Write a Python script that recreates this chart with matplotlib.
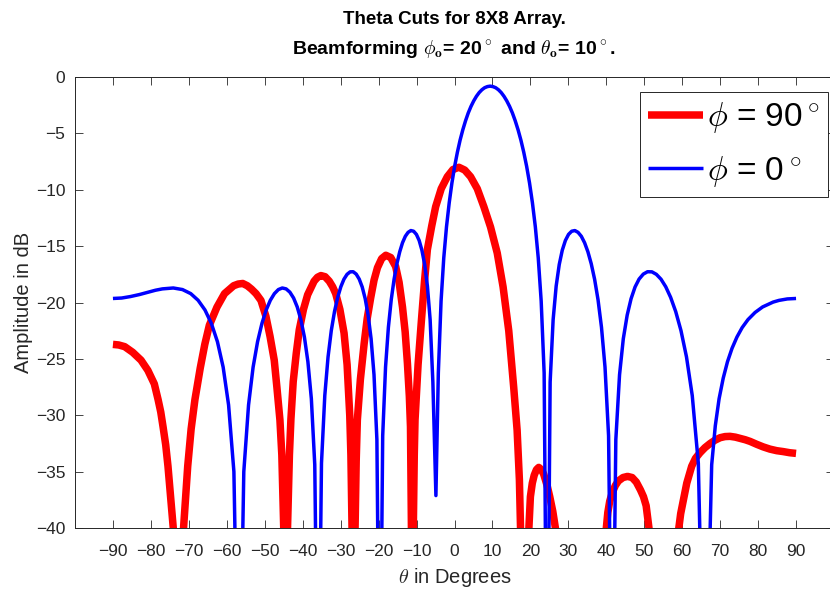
import matplotlib.pyplot as plt

# theta cut at phi = 90 deg
theta_red = [-90, -88.5, -86.9, -84.8, -82.6, -80.8, -79.1, -78.1, -77.4, -76.8,
             -76.1, -75.5, -74.1, -72.8, -71.4, -70.3, -69.4, -68.4, -67.0, -65.8,
             -64.6, -62.6, -60.6, -58.2, -57.0, -55.8, -54.6, -53.5, -52.3, -51.0,
             -49.7, -48.6, -47.5, -46.8, -46.0, -45.5, -45.0, -44.5, -44.0, -43.5,
             -43.1, -42.5, -41.7, -40.9, -39.8, -38.7, -37.0, -36.1, -35.2, -34.1,
             -33.0, -32.1, -31.3, -30.2, -29.1, -28.3, -27.6, -27.3, -27.0, -26.6,
             -26.2, -25.9, -25.6, -24.8, -23.8, -23.0, -22.1, -21.2, -20.3, -19.2,
             -18.1, -16.8, -15.5, -14.6, -13.7, -13.0, -12.4, -11.9, -11.6, -11.35,
             -11.1, -10.85, -10.6, -10.4, -9.6, -8.7, -7.9, -7.15, -6.0, -4.97,
             -3.5, -1.9, -0.4, 1.16, 2.7, 4.24, 6.0, 7.74, 9.5, 11.26,
             12.8, 14.3, 15.6, 16.5, 17.1, 17.4, 18.5, 19.6, 20.0, 20.5,
             21.0, 21.6, 22.2, 22.9, 23.5, 24.4, 25.1, 25.9, 26.6, 27.5,
             33.0, 38.8, 40.0, 40.4, 40.9, 41.6, 42.4, 43.2, 44.4, 45.6,
             46.8, 47.9, 49.0, 49.8, 50.5, 51.25, 52.5, 57.8, 59.1, 59.6,
             60.3, 61.2, 62.5, 63.5, 64.7, 66.0, 67.3, 68.6, 70.0, 71.3,
             72.6, 74.0, 75.3, 76.6, 77.9, 79.6, 81.3, 83.1, 84.9, 86.6,
             88.3, 90]
amp_red = [-23.7, -23.75, -23.9, -24.4, -25.1, -26.0, -27.2, -28.6, -29.7, -31.0,
           -32.6, -34.5, -40, -60, -40, -34.5, -31.2, -28.6, -25.8, -23.7,
           -22.0, -20.4, -19.2, -18.5, -18.35, -18.3, -18.5, -18.8, -19.2, -19.8,
           -21.2, -23.0, -25.1, -27.5, -30.4, -33.5, -40, -60, -40, -33.5,
           -30.3, -27.0, -24.5, -22.4, -20.6, -19.3, -18.1, -17.75, -17.6, -17.7,
           -18.1, -18.6, -19.2, -20.6, -22.7, -25.5, -30.0, -33.5, -40, -60,
           -40, -34.0, -30.4, -26.8, -23.6, -21.4, -19.6, -18.0, -16.9, -16.1,
           -15.8, -16.0, -16.8, -18.2, -20.4, -22.6, -25.4, -28.3, -31.0, -40,
           -60, -40, -33.5, -30.4, -25.5, -21.5, -18.1, -15.3, -13.2, -11.5,
           -9.9, -8.84, -8.2, -8.0, -8.25, -8.84, -9.9, -11.5, -13.3, -15.6,
           -18.6, -22.5, -27.5, -31.3, -35.7, -40, -60, -40, -37.2, -36.0,
           -35.3, -34.8, -34.6, -34.8, -35.2, -36.2, -37.2, -38.5, -40, -60,
           -55, -60, -40, -38.6, -37.6, -36.8, -36.2, -35.8, -35.5, -35.4,
           -35.5, -35.9, -36.6, -37.2, -38.0, -40, -60, -60, -40, -38.7,
           -37.5, -36.0, -34.5, -33.8, -33.3, -32.85, -32.5, -32.2, -31.97, -31.87,
           -31.85, -31.92, -32.03, -32.15, -32.3, -32.55, -32.78, -32.98, -33.12, -33.2,
           -33.3, -33.36]

# theta cut at phi = 0 deg
theta_blue = [-90, -87.7, -85.4, -83.0, -80.68, -78.8, -76.98, -74.1, -71.68, -69.5,
              -67.56, -65.75, -64.07, -62.47, -60.96, -59.53, -58.13, -56.8, -55.52, -54.27,
              -53.07, -51.89, -50.74, -49.62, -48.53, -47.46, -46.41, -45.38, -44.37, -43.38,
              -42.4, -41.44, -40.49, -39.55, -38.63, -37.72, -36.82, -35.93, -35.05, -34.18,
              -33.32, -32.47, -31.62, -30.78, -29.95, -29.13, -28.31, -27.5, -26.7, -25.9,
              -25.11, -24.32, -23.53, -22.76, -21.98, -21.21, -20.45, -19.68, -18.92, -18.17,
              -17.42, -16.67, -15.92, -15.18, -14.43, -13.7, -12.96, -12.23, -11.5, -10.77,
              -10.04, -9.31, -8.59, -7.86, -7.14, -6.42, -5.7, -4.9, -4.26, -3.54,
              -2.83, -2.11, -1.39, -0.68, 0.04, 0.76, 1.47, 2.19, 2.91, 3.62,
              4.34, 5.06, 5.78, 6.5, 7.22, 7.94, 8.67, 9.39, 10.12, 10.85,
              11.58, 12.31, 13.04, 13.78, 14.52, 15.26, 16.0, 16.75, 17.5, 18.25,
              19.01, 19.77, 20.53, 21.3, 22.07, 22.84, 23.62, 24.41, 25.2, 25.99,
              26.79, 27.6, 28.4, 29.22, 30.05, 30.88, 31.72, 32.56, 33.42, 34.28,
              35.15, 36.03, 36.92, 37.82, 38.73, 39.66, 40.6, 41.55, 42.51, 43.49,
              44.48, 45.5, 46.53, 47.58, 48.64, 49.75, 50.86, 52.02, 53.19, 54.41,
              55.66, 56.95, 58.29, 59.68, 61.13, 62.65, 64.25, 65.94, 67.77, 68.72,
              69.72, 70.81, 71.93, 73.13, 74.42, 75.8, 77.34, 79.2, 81.19, 83.96,
              85.5, 87.7, 90]
amp_blue = [-19.63, -19.59, -19.46, -19.28, -19.07, -18.9, -18.78, -18.7, -18.84, -19.2,
            -19.79, -20.65, -21.84, -23.46, -25.72, -29.07, -34.98, -60, -34.98, -29.07,
            -25.72, -23.46, -21.84, -20.65, -19.79, -19.2, -18.84, -18.7, -18.78, -19.07,
            -19.59, -20.38, -21.5, -23.05, -25.24, -28.52, -34.37, -60, -34.23, -28.24,
            -24.81, -22.48, -20.79, -19.53, -18.59, -17.92, -17.49, -17.27, -17.26, -17.47,
            -17.91, -18.61, -19.65, -21.11, -23.2, -26.39, -32.14, -60, -31.8, -25.71,
            -22.18, -19.74, -17.93, -16.55, -15.49, -14.69, -14.12, -13.77, -13.61, -13.67,
            -13.95, -14.49, -15.35, -16.62, -18.53, -21.51, -27.04, -37.1, -26.22, -19.86,
            -16.04, -13.28, -11.14, -9.39, -7.92, -6.67, -5.6, -4.68, -3.88, -3.19,
            -2.61, -2.12, -1.71, -1.38, -1.13, -0.95, -0.85, -0.81, -0.85, -0.95,
            -1.13, -1.38, -1.71, -2.12, -2.61, -3.19, -3.88, -4.68, -5.6, -6.67,
            -7.92, -9.39, -11.14, -13.28, -16.04, -19.86, -26.22, -60, -27.04, -21.51,
            -18.53, -16.62, -15.35, -14.49, -13.95, -13.67, -13.61, -13.77, -14.12, -14.69,
            -15.49, -16.55, -17.93, -19.74, -22.18, -25.71, -31.8, -60, -32.14, -26.39,
            -23.2, -21.11, -19.65, -18.61, -17.91, -17.47, -17.26, -17.27, -17.49, -17.92,
            -18.59, -19.53, -20.79, -22.48, -24.81, -28.24, -34.23, -60, -34.37, -30.92,
            -28.52, -26.69, -25.24, -24.05, -23.05, -22.21, -21.5, -20.87, -20.38, -19.95,
            -19.8, -19.67, -19.63]

x_ticks = list(range(-90, 91, 10))
y_ticks = list(range(-40, 1, 5))
legend_labels = [r'$\phi$ = 90$^\circ$', r'$\phi$ = 0$^\circ$']

plt.rcParams['font.family'] = ['Liberation Sans', 'DejaVu Sans']
plt.rcParams['mathtext.fontset'] = 'cm'

axc = '#262626'
fig = plt.figure(figsize=(8.3, 5.91), dpi=100)
ax = fig.add_axes([75 / 830, 62.7 / 591, 759 / 830, 451.3 / 591])

ax.plot(theta_red, amp_red, color='#ff0000', lw=5.4, solid_capstyle='butt',
        solid_joinstyle='round', label=legend_labels[0])
ax.plot(theta_blue, amp_blue, color='#0000ff', lw=2.5, solid_capstyle='butt',
        solid_joinstyle='round', label=legend_labels[1])

ax.set_xlim(-100, 100)
ax.set_ylim(-40, 0)
ax.set_xticks(x_ticks)
ax.set_yticks(y_ticks)
ax.tick_params(direction='in', length=5.5, width=0.6, color=axc, labelcolor=axc,
               labelsize=12.5, top=True, right=True)
ax.tick_params(axis='x', pad=11.5)
ax.tick_params(axis='y', pad=7)
for s in ax.spines.values():
    s.set_color(axc)
    s.set_linewidth(0.7)

ax.set_xlabel(r'$\theta$ in Degrees', fontsize=14.5, color=axc, labelpad=5)
ax.set_ylabel('Amplitude in dB', fontsize=14.5, color=axc, labelpad=2)

fig.text(0.547, 1 - 20 / 591, 'Theta Cuts for 8X8 Array.', ha='center', va='center',
         fontsize=13.5, fontweight='bold')
fig.text(0.547, 1 - 50 / 591,
         r'Beamforming $\phi_\mathbf{o}$= 20$^\circ$ and $\theta_\mathbf{o}$= 10$^\circ$.',
         ha='center', va='center', fontsize=14, fontweight='bold')

leg = ax.legend(loc='upper left', bbox_to_anchor=(0.744, 0.967), borderaxespad=0,
                fontsize=24, handlelength=1.65, handletextpad=0.12, borderpad=0.25,
                labelspacing=0.55, fancybox=False, framealpha=1)
leg.get_frame().set_edgecolor(axc)
leg.get_frame().set_linewidth(0.7)

fig.savefig('out.png', dpi=100)
